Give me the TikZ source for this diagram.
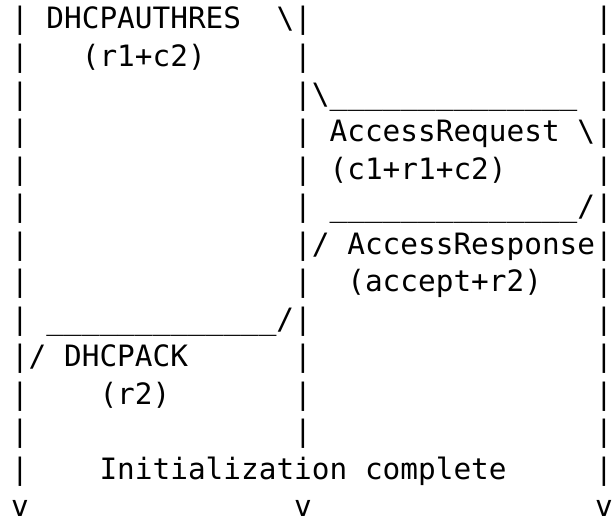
\documentclass[tikz,border=0pt]{standalone}
\usepackage{fontspec}
\newfontfamily\asciifont{DejaVu Sans Mono}

\begin{document}
\begin{tikzpicture}[x=8.85pt,y=-18.75pt,
    txt/.style={anchor=base west,inner sep=0pt,outer sep=0pt,
        font=\asciifont\fontsize{14.7}{18}\selectfont}]
    \useasboundingbox (-0.6215,0.2267) rectangle (34.01,14.253);
    % Lineas de vida
    \foreach \r in {1,...,13}
        \node[txt] (left\r) at (0,\r) {|};
    \foreach \r in {1,...,12}
        \node[txt] (mid\r) at (16,\r) {|};
    \foreach \r in {1,...,13}
        \node[txt] (right\r) at (33,\r) {|};
    \node[txt] (leftend) at (0,14) {v};
    \node[txt] (midend) at (16,14) {v};
    \node[txt] (rightend) at (33,14) {v};
    % DHCPAUTHRES
    \node[txt] (authres) at (2,1) {DHCPAUTHRES};
    \node[txt] (authrestip) at (15,1) {\textbackslash};
    \node[txt] (authresarg) at (4,2) {(r1+c2)};
    % AccessRequest
    \node[txt] (reqtop) at (17,3) {\textbackslash\_\_\_\_\_\_\_\_\_\_\_\_\_\_};
    \node[txt] (req) at (18,4) {AccessRequest};
    \node[txt] (reqtip) at (32,4) {\textbackslash};
    \node[txt] (reqarg) at (18,5) {(c1+r1+c2)};
    % AccessResponse
    \node[txt] (resptop) at (18,6) {\_\_\_\_\_\_\_\_\_\_\_\_\_\_/};
    \node[txt] (resptip) at (17,7) {/};
    \node[txt] (resp) at (19,7) {AccessResponse};
    \node[txt] (resparg) at (19,8) {(accept+r2)};
    % DHCPACK
    \node[txt] (acktop) at (2,9) {\_\_\_\_\_\_\_\_\_\_\_\_\_/};
    \node[txt] (acktip) at (1,10) {/};
    \node[txt] (ack) at (3,10) {DHCPACK};
    \node[txt] (ackarg) at (5,11) {(r2)};
    % Fin
    \node[txt] (done) at (5,13) {Initialization complete};
\end{tikzpicture}
\end{document}
